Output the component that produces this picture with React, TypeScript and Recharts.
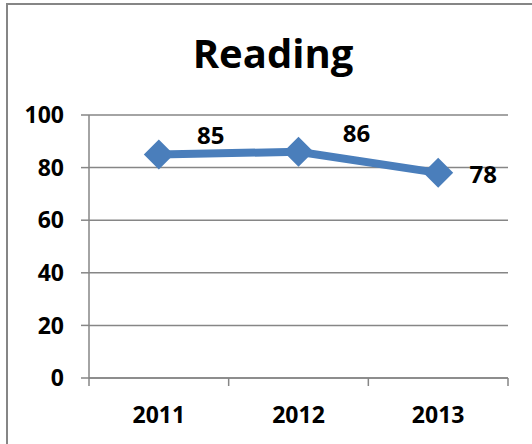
import React from 'react';
import { LineChart, Line, XAxis, YAxis, CartesianGrid, LabelList } from 'recharts';

const years = ['2011', '2012', '2013'];
const reading = [85, 86, 78];
const yTicks = [0, 20, 40, 60, 80, 100];
// where each value label sits relative to its point (Excel nudged them around the line)
const labelNudge = [
  { dx: 52, dy: -10 },
  { dx: 58, dy: -10 },
  { dx: 45, dy: 10 },
];

const data = years.map((year, i) => ({ year, value: reading[i] }));

const BLUE = '#4A7EBB';
const GRAY = '#868686';
const FONT = '"Open Sans", "Liberation Sans", sans-serif';
const PLOT_LEFT = 89;
const PLOT_RIGHT = 508;
const HALF_STEP = (PLOT_RIGHT - PLOT_LEFT) / years.length / 2;

const Diamond = (props: any) => {
  const { cx, cy } = props;
  if (cx == null || cy == null) return null;
  const r = 15;
  return (
    <polygon
      points={`${cx - r},${cy} ${cx},${cy - r} ${cx + r},${cy} ${cx},${cy + r}`}
      fill={BLUE}
    />
  );
};

// category ticks sit between the years, labels in the middle
const YearTick = (props: any) => {
  const { x, y, payload, index } = props;
  const axisY = y - 29;
  return (
    <g>
      <line x1={x - HALF_STEP} x2={x - HALF_STEP} y1={axisY} y2={axisY + 8} stroke={GRAY} strokeWidth={1.5} />
      {index === years.length - 1 && (
        <line x1={x + HALF_STEP} x2={x + HALF_STEP} y1={axisY} y2={axisY + 8} stroke={GRAY} strokeWidth={1.5} />
      )}
      <text x={x} y={y} dy="0.71em" textAnchor="middle" fontFamily={FONT} fontWeight="bold" fontSize={23} fill="#000">
        {payload.value}
      </text>
    </g>
  );
};

const ValueLabel = (props: any) => {
  const { x, y, value, index } = props;
  const n = labelNudge[index] || { dx: 0, dy: 0 };
  return (
    <text x={x + n.dx} y={y + n.dy} textAnchor="middle" fontFamily={FONT} fontWeight="bold" fontSize={24} fill="#000">
      {value}
    </text>
  );
};

export default function App() {
  return (
    <div style={{ position: 'absolute', left: 0, top: 0, width: 532, height: 444, overflow: 'hidden', background: '#fff' }}>
      <div
        style={{
          position: 'absolute',
          left: 6,
          top: 3,
          width: 600,
          height: 500,
          border: `2px solid ${GRAY}`,
          boxSizing: 'border-box',
        }}
      />
      <svg width={532} height={444} style={{ position: 'absolute', left: 0, top: 0 }}>
        <text x={273} y={68} textAnchor="middle" fontFamily={FONT} fontWeight="bold" fontSize={40} fill="#000">
          Reading
        </text>
      </svg>
      <div style={{ position: 'absolute', left: 0, top: 0 }}>
        <LineChart
          width={532}
          height={444}
          data={data}
          margin={{ top: 115, right: 532 - PLOT_RIGHT, bottom: 26, left: 9 }}
        >
          <CartesianGrid vertical={false} stroke={GRAY} strokeWidth={1.5} />
          <XAxis
            dataKey="year"
            height={40}
            padding={{ left: HALF_STEP, right: HALF_STEP }}
            axisLine={{ stroke: GRAY, strokeWidth: 1.5 }}
            tickLine={false}
            tickSize={8}
            tickMargin={21}
            tick={<YearTick />}
            interval={0}
          />
          <YAxis
            width={80}
            domain={[0, 100]}
            ticks={yTicks}
            axisLine={{ stroke: GRAY, strokeWidth: 1.5 }}
            tickLine={{ stroke: GRAY, strokeWidth: 1.5 }}
            tickSize={8}
            tickMargin={17}
            tick={{ fontFamily: FONT, fontWeight: 'bold', fontSize: 23, fill: '#000' }}
          />
          <Line
            type="linear"
            dataKey="value"
            stroke={BLUE}
            strokeWidth={8}
            dot={<Diamond />}
            activeDot={false}
            isAnimationActive={false}
          >
            <LabelList dataKey="value" content={<ValueLabel />} />
          </Line>
        </LineChart>
      </div>
    </div>
  );
}
